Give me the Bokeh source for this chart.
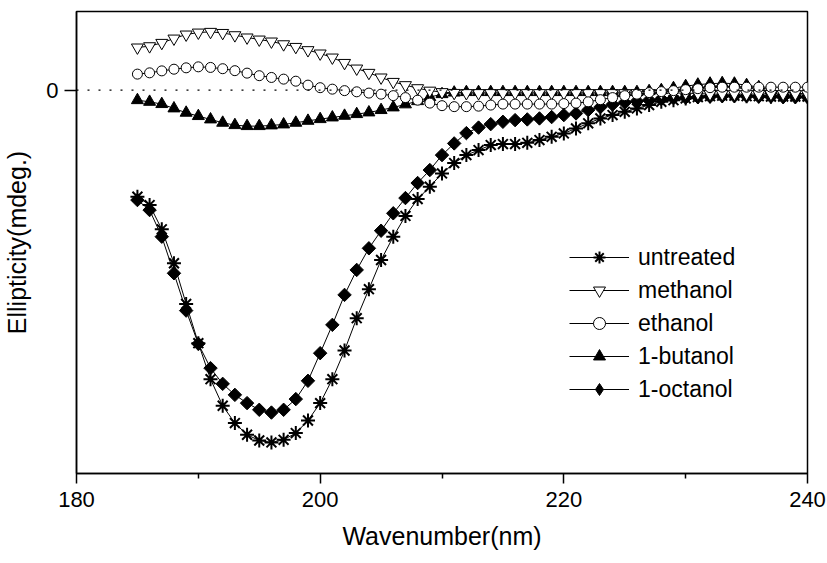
import numpy as np
from bokeh.plotting import figure
from bokeh.models import (Span, Legend, LegendItem, FixedTicker, Range1d,
                          ColumnDataSource)
from bokeh.embed import file_html
from bokeh.resources import INLINE

wavelength = list(range(185, 241))

untreated = [-10.84, -11.69, -14.16, -17.61, -21.75, -25.74, -29.40, -32.11, -33.87, -35.06,
             -35.64, -35.84, -35.57, -34.89, -33.61, -31.84, -29.40, -26.49, -23.20, -20.25,
             -17.28, -14.91, -12.80, -11.08, -9.83, -8.47, -7.42, -6.61, -6.10, -5.59,
             -5.49, -5.49, -5.36, -5.08, -4.75, -4.40, -3.89, -3.38, -2.88, -2.54,
             -2.21, -1.86, -1.52, -1.19, -1.02, -0.84, -0.71, -0.61, -0.56, -0.56,
             -0.61, -0.61, -0.66, -0.66, -0.66, -0.66]

methanol = [4.34, 4.47, 4.81, 5.25, 5.66, 5.86, 5.93, 5.82, 5.59, 5.36,
            5.15, 4.95, 4.67, 4.40, 4.07, 3.73, 3.32, 2.77, 2.20, 1.76,
            1.29, 0.84, 0.51, 0.20, -0.05, -0.20, -0.28, -0.30, -0.30, -0.30,
            -0.30, -0.30, -0.30, -0.30, -0.30, -0.30, -0.30, -0.30, -0.30, -0.30,
            -0.30, -0.30, -0.30, -0.30, -0.30, -0.30, -0.35, -0.40, -0.40, -0.40,
            -0.40, -0.40, -0.40, -0.40, -0.40, -0.40]

ethanol = [1.63, 1.76, 1.96, 2.13, 2.27, 2.37, 2.31, 2.18, 1.98, 1.73,
           1.47, 1.29, 1.12, 0.91, 0.51, 0.25, 0.10, -0.05, -0.17, -0.30,
           -0.41, -0.56, -0.76, -1.02, -1.32, -1.58, -1.68, -1.68, -1.63, -1.52,
           -1.42, -1.42, -1.42, -1.42, -1.42, -1.37, -1.32, -1.19, -0.97, -0.76,
           -0.56, -0.41, -0.25, -0.15, -0.05, 0.05, 0.15, 0.25, 0.30, 0.30,
           0.30, 0.30, 0.30, 0.30, 0.30, 0.30]

butanol = [-1.02, -1.19, -1.42, -1.86, -2.30, -2.64, -2.98, -3.32, -3.56, -3.66,
           -3.66, -3.59, -3.49, -3.32, -3.12, -2.95, -2.78, -2.61, -2.44, -2.27,
           -2.03, -1.76, -1.45, -1.12, -0.71, -0.41, -0.25, -0.20, -0.20, -0.20,
           -0.20, -0.20, -0.20, -0.20, -0.20, -0.20, -0.20, -0.20, -0.20, -0.20,
           -0.20, -0.20, -0.10, 0.00, 0.20, 0.41, 0.56, 0.66, 0.71, 0.66,
           0.51, 0.30, 0.00, -0.20, -0.30, -0.41]

octanol = [-11.18, -12.20, -14.91, -18.63, -22.43, -25.81, -28.28, -29.88, -31.00, -31.84,
           -32.52, -32.80, -32.52, -31.43, -29.57, -26.76, -23.88, -20.83, -18.29, -16.09,
           -14.30, -12.53, -10.98, -9.45, -8.13, -6.61, -5.42, -4.37, -3.81, -3.46,
           -3.22, -3.05, -2.98, -2.88, -2.74, -2.54, -2.37, -2.03, -1.73, -1.47,
           -1.27, -1.12, -1.02, -0.91, -0.81, -0.76, -0.71, -0.66, -0.61, -0.61,
           -0.61, -0.66, -0.66, -0.71, -0.71, -0.71]

x_ticks = [180, 200, 220, 240]
y_ticks = [0]

FONT = "Liberation Sans"

p = figure(width=827, height=563, output_backend="svg", toolbar_location=None,
           x_range=Range1d(180, 240), y_range=Range1d(-39, 8),
           min_border_left=75, min_border_right=20, min_border_top=11, min_border_bottom=90)
p.grid.visible = False
p.background_fill_color = "white"
p.border_fill_color = "white"
p.outline_line_color = "black"
p.outline_line_width = 1.5

p.xaxis.ticker = FixedTicker(ticks=x_ticks, minor_ticks=[190, 210, 230])
p.yaxis.ticker = FixedTicker(ticks=y_ticks, minor_ticks=[])
for ax in (p.xaxis, p.yaxis):
    ax.axis_line_color = "black"
    ax.axis_line_width = 1.5
    ax.major_tick_line_color = "black"
    ax.major_tick_line_width = 1.5
    ax.minor_tick_line_color = "black"
    ax.minor_tick_line_width = 1.5
    ax.major_tick_in = 0
    ax.minor_tick_in = 0
    ax.major_label_text_font = FONT
    ax.major_label_text_font_size = "22px"
    ax.major_label_text_color = "black"
    ax.axis_label_text_font = FONT
    ax.axis_label_text_font_size = "25px"
    ax.axis_label_text_font_style = "normal"
    ax.axis_label_text_color = "black"

p.xaxis.major_tick_out = 10
p.xaxis.minor_tick_out = 5
p.xaxis.major_label_standoff = 8
p.xaxis.axis_label = "Wavenumber(nm)"
p.xaxis.axis_label_standoff = 12

p.yaxis.major_tick_out = 12
p.yaxis.minor_tick_out = 0
p.yaxis.major_label_standoff = 6
p.yaxis.axis_label = "Ellipticity(mdeg.)"
p.yaxis.axis_label_standoff = 12

zero = Span(location=0, dimension="width", line_color="black", line_width=1.2,
            line_dash="2 9")
p.add_layout(zero)


def series(y, marker, size, fill, angle=0.0, mlw=1.0, legend_marker=None):
    src = ColumnDataSource(data=dict(x=wavelength, y=y))
    l = p.line("x", "y", source=src, line_color="black", line_width=1.0)
    proxy = None
    if legend_marker is not None:
        # drawn underneath the real markers (fully covered by them); used for the legend glyph
        proxy = p.scatter("x", "y", source=src, marker=legend_marker, size=size,
                          fill_color=fill, line_color="black", line_width=mlw)
    s = p.scatter("x", "y", source=src, marker=marker, size=size, fill_color=fill,
                  line_color="black", line_width=mlw, angle=angle)
    return [l, proxy if proxy is not None else s]

r_un = series(untreated, "asterisk", 14, None, mlw=2.0)
r_oc = series(octanol, "square", 9.5, "black", angle=np.pi / 4, legend_marker="diamond")
r_bu = series(butanol, "triangle", 12, "black")
r_me = series(methanol, "inverted_triangle", 12, "white")
r_et = series(ethanol, "circle", 10, "white")

legend = Legend(items=[LegendItem(label="untreated", renderers=r_un),
                       LegendItem(label="methanol", renderers=r_me),
                       LegendItem(label="ethanol", renderers=r_et),
                       LegendItem(label="1-butanol", renderers=r_bu),
                       LegendItem(label="1-octanol", renderers=r_oc)],
                location=(493, 69), orientation="vertical",
                background_fill_alpha=0, border_line_color=None,
                padding=0, margin=0, spacing=3,
                glyph_width=60, glyph_height=30, label_height=30,
                label_standoff=9,
                label_text_font=FONT, label_text_font_size="23px",
                label_text_color="black")
p.add_layout(legend)

open("out.html", "w").write(file_html(p, INLINE))
